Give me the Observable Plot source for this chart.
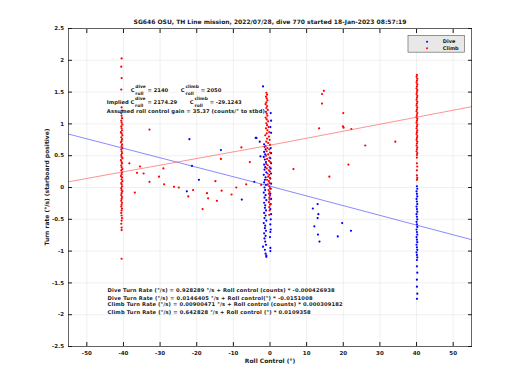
<!DOCTYPE html>
<html><head><meta charset="utf-8">
<script src="https://cdn.jsdelivr.net/npm/d3@7"></script>
<script src="https://cdn.jsdelivr.net/npm/@observablehq/plot@0.6"></script>
<style>body{margin:0;background:#fff} svg{display:block}</style>
</head><body><div id="chart"></div>
<script>
const title = "SG646 OSU, TH Line mission, 2022/07/28, dive 770 started 18-Jan-2023 08:57:19";
const xLabel = "Roll Control (°)";
const yLabel = "Turn rate (°/s) (starboard positive)";
const xTicks = [-50, -40, -30, -20, -10, 0, 10, 20, 30, 40, 50];
const yTicks = [-2.5, -2, -1.5, -1, -0.5, 0, 0.5, 1, 1.5, 2, 2.5];
const seriesNames = ["Dive", "Climb"];
const seriesColors = ["#0000ff", "#ff0000"];

// climb points, cluster at -40°
const climbAtM40 = [[-40.5,2.03],[-40.6,1.90],[-40.5,1.72],[-40.6,1.54],[-40.5,1.26],[-40.4,1.21],[-40.6,1.17],[-40.5,1.13],[-40.4,1.09],[-40.6,1.05],[-40.5,1.02],[-40.3,0.99],[-40.6,0.96],[-40.5,0.93],[-40.4,0.90],[-40.7,0.87],[-40.5,0.85],[-40.3,0.82],[-40.6,0.79],[-40.4,0.76],[-40.5,0.73],[-40.7,0.71],[-40.4,0.68],[-40.5,0.65],[-40.3,0.62],[-40.6,0.60],[-40.5,0.57],[-40.4,0.54],[-40.6,0.51],[-40.5,0.48],[-40.3,0.46],[-40.7,0.43],[-40.5,0.40],[-40.4,0.38],[-40.6,0.35],[-40.5,0.32],[-40.3,0.29],[-40.6,0.27],[-40.4,0.24],[-40.5,0.21],[-40.7,0.18],[-40.4,0.16],[-40.5,0.13],[-40.3,0.10],[-40.6,0.07],[-40.5,0.05],[-40.4,0.02],[-40.6,-0.01],[-40.5,-0.04],[-40.3,-0.06],[-40.5,-0.09],[-40.6,-0.12],[-40.4,-0.15],[-40.5,-0.18],[-40.6,-0.21],[-40.4,-0.24],[-40.5,-0.27],[-40.6,-0.30],[-40.4,-0.33],[-40.5,-0.36],[-40.6,-0.40],[-40.5,-0.44],[-40.4,-0.48],[-40.5,-0.52],[-40.6,-0.57],[-40.5,-0.63],[-40.5,-0.67],[-40.5,-1.12]];
// climb points, cluster near 0°
const climbAt0 = [[-1.0,1.49],[-0.8,1.46],[-1.1,1.43],[-0.9,1.40],[-0.7,1.37],[-1.0,1.34],[-1.2,1.31],[-0.8,1.28],[-1.0,1.25],[-0.6,1.22],[-1.1,1.19],[-0.9,1.16],[-0.7,1.13],[-1.2,1.10],[-0.9,1.07],[-0.5,1.04],[-1.0,1.01],[-0.8,0.98],[-0.4,0.95],[-1.1,0.93],[-0.7,0.90],[-0.2,0.87],[-0.9,0.85],[-1.3,0.82],[-0.3,0.80],[-0.8,0.77],[-0.1,0.75],[-1.0,0.72],[-0.5,0.70],[0.0,0.67],[-1.2,0.65],[-0.7,0.62],[-0.2,0.60],[-0.9,0.57],[0.0,0.55],[-0.5,0.52],[-1.1,0.50],[-0.1,0.47],[-0.8,0.45],[-0.3,0.42],[0.1,0.40],[-1.0,0.37],[-0.6,0.35],[-0.1,0.32],[-0.9,0.30],[-0.3,0.27],[0.0,0.25],[-0.7,0.22],[-0.2,0.20],[-0.5,0.17],[0.0,0.15],[-0.8,0.12],[-0.3,0.10],[-0.1,0.07],[-0.6,0.05],[-0.2,0.02],[0.0,-0.01],[-0.4,-0.04],[-0.1,-0.07],[-0.3,-0.10],[0.0,-0.13],[-0.2,-0.16],[-0.1,-0.19],[-0.3,-0.23],[0.0,-0.27],[-0.2,-0.31],[-0.1,-0.36],[-0.2,-0.43]];
// climb points, cluster at 40°
const climbAt40 = [[40.1,1.77],[40.0,1.74],[40.2,1.71],[40.1,1.68],[40.0,1.65],[40.2,1.62],[40.1,1.59],[40.0,1.56],[40.2,1.53],[40.1,1.50],[40.0,1.47],[40.2,1.44],[40.1,1.41],[40.0,1.38],[40.2,1.35],[40.1,1.32],[40.0,1.29],[40.2,1.26],[40.1,1.23],[40.0,1.20],[40.2,1.17],[40.1,1.14],[40.0,1.11],[40.2,1.08],[40.1,1.05],[40.0,1.02],[40.2,0.99],[40.1,0.96],[40.0,0.93],[40.2,0.90],[40.1,0.87],[40.0,0.84],[40.2,0.81],[40.1,0.78],[40.0,0.75],[40.2,0.72],[40.1,0.69],[40.0,0.66],[40.2,0.63],[40.1,0.60],[40.0,0.57],[40.2,0.54],[40.1,0.51],[40.1,0.47],[40.1,0.38],[40.2,0.33],[40.1,0.27],[40.1,0.19],[40.2,0.15],[40.1,0.12]];
// climb scattered points
const climbScatter = [[-38.4,0.38],[-35.5,0.33],[-36.3,0.23],[-34.5,0.22],[-32.9,0.09],[-36.9,-0.08],[-30.3,0.17],[-32.9,0.91],[-29.1,0.30],[-28.9,0.05],[-26.2,0.01],[-24.9,0.0],[-21.0,-0.04],[-22.3,-0.14],[-18.4,-0.34],[-17.2,-0.09],[-16.9,-0.17],[-14.5,-0.21],[-14.9,0.10],[-13.2,-0.05],[-13.4,0.45],[-10.5,-0.11],[-9.2,0.0],[-7.8,0.63],[-6.5,0.05],[-5.5,0.40],[-2.4,0.04],[14.7,1.52],[14.2,1.47],[14.2,1.32],[20.0,1.17],[19.9,0.96],[20.1,0.94],[22.2,0.92],[13.4,0.93],[26.0,0.66],[34.2,0.72],[6.4,0.29],[21.4,0.36],[16.2,0.17]];

// dive points, cluster near 0°
const diveAt0 = [[-1.9,1.59],[0.2,1.17],[0.3,1.05],[0.1,0.95],[0.3,0.86],[-3.7,0.78],[-2.8,0.72],[-1.6,0.68],[-2.6,0.49],[-1.5,0.64],[0.2,0.62],[-1.2,0.60],[-1.6,0.56],[0.3,0.54],[-1.3,0.52],[-1.7,0.48],[0.1,0.46],[-1.4,0.44],[-1.1,0.40],[0.3,0.38],[-1.6,0.36],[-1.3,0.32],[0.2,0.30],[-1.5,0.28],[-1.0,0.24],[0.3,0.22],[-1.7,0.20],[-1.2,0.16],[0.1,0.14],[-1.4,0.12],[-1.6,0.08],[0.3,0.06],[-1.1,0.04],[-1.5,0.00],[0.2,-0.02],[-1.3,-0.04],[-1.7,-0.08],[0.1,-0.10],[-1.2,-0.12],[-1.5,-0.16],[0.3,-0.18],[-1.0,-0.20],[-1.6,-0.24],[0.2,-0.26],[-1.3,-0.28],[-1.4,-0.32],[0.1,-0.34],[-1.1,-0.36],[-1.6,-0.40],[0.3,-0.42],[-1.2,-0.44],[-1.5,-0.48],[0.2,-0.50],[-1.0,-0.52],[-1.7,-0.56],[0.1,-0.58],[-1.3,-0.60],[-1.4,-0.64],[0.2,-0.66],[-1.1,-0.68],[-1.6,-0.72],[0.1,-0.70],[-1.2,-0.76],[-1.5,-0.80],[0.0,-0.78],[-1.3,-0.85],[-1.9,-0.93],[-1.1,-0.90],[0.1,-0.95],[-1.4,-0.98],[0.1,-1.00],[-1.2,-1.04],[-1.0,-1.07],[-1.0,-1.09]];
// dive points, cluster at 40°
const diveAt40 = [[40.1,0.02],[40.2,-0.02],[40.0,-0.06],[40.1,-0.10],[40.2,-0.14],[40.0,-0.18],[40.1,-0.22],[40.2,-0.26],[40.0,-0.30],[40.1,-0.34],[40.2,-0.38],[40.0,-0.42],[40.1,-0.46],[40.2,-0.50],[40.0,-0.54],[40.1,-0.58],[40.2,-0.62],[40.0,-0.66],[40.1,-0.70],[40.2,-0.74],[40.0,-0.78],[40.1,-0.82],[40.2,-0.86],[40.0,-0.90],[40.1,-0.94],[40.2,-0.98],[40.0,-1.02],[40.1,-1.06],[40.2,-1.10],[40.1,-1.14],[40.1,-1.24],[40.2,-1.34],[40.1,-1.45],[40.1,-1.56],[40.2,-1.67],[40.1,-1.75]];
// dive scattered points
const diveScatter = [[-22.0,0.76],[-13.4,0.59],[-21.3,0.34],[-19.4,0.12],[-22.7,-0.06],[-7.7,-0.19],[-3.9,0.78],[-4.3,0.09],[13.0,-0.26],[11.7,-0.33],[13.2,-0.42],[13.0,-0.48],[12.1,-0.61],[19.7,-0.56],[22.1,-0.68],[13.1,-0.74],[13.5,-0.85],[18.5,-0.77]];

// fitted lines (read at x = -55, 0, 55)
const fitX = [-55, 0, 55];
const diveFitY = [0.84, 0.02, -0.82];
const climbFitY = [0.09, 0.665, 1.27];

const annotLine1 = ["C", {sup: "dive", sub: "roll"}, " = 2140", "       ", "C", {sup: "climb", sub: "roll"}, " = 2050"];
const annotLine2 = ["Implied C", {sup: "dive", sub: "roll"}, " = 2174.29", "       ", "C", {sup: "climb", sub: "roll"}, " = -29.1243"];
const annotLine3 = ["Assumed roll control gain = 35.37 (counts/° to stbd)"];
const fitText = [
  "Dive Turn Rate (°/s) = 0.928289 °/s + Roll control (counts) * -0.000426938",
  "Dive Turn Rate (°/s) = 0.0146405 °/s + Roll control(°) * -0.0151008",
  "Climb Turn Rate (°/s) = 0.00900471 °/s + Roll control (counts) * 0.000309182",
  "Climb Turn Rate (°/s) = 0.642828 °/s + Roll control (°) * 0.0109358"
];
const fitTextWidth = [227, 205, 235, 203];

const dive = [...diveAt0, ...diveAt40, ...diveScatter];
const climb = [...climbAtM40, ...climbAt0, ...climbAt40, ...climbScatter];
const diveFit = fitX.map((x, i) => [x, diveFitY[i]]);
const climbFit = fitX.map((x, i) => [x, climbFitY[i]]);
const fmt = d => String(d);

const plot = Plot.plot({
  width: 520, height: 390,
  marginLeft: 68, marginRight: 49, marginTop: 28, marginBottom: 44,
  style: {fontFamily: "DejaVu Sans", fontWeight: "bold", fontSize: "5.5px", background: "#fff", color: "#1a1a1a"},
  x: {domain: [-55, 55]},
  y: {domain: [-2.5, 2.5]},
  marks: [
    Plot.gridX(xTicks, {stroke: "#e6e6e6", strokeOpacity: 1, strokeWidth: 0.6}),
    Plot.gridY(yTicks, {stroke: "#e6e6e6", strokeOpacity: 1, strokeWidth: 0.6}),
    Plot.dot(dive, {x: d => d[0], y: d => d[1], r: 1.1, fill: seriesColors[0], stroke: "none"}),
    Plot.dot(climb, {x: d => d[0], y: d => d[1], r: 1.1, fill: seriesColors[1], stroke: "none"}),
    Plot.line(diveFit, {x: d => d[0], y: d => d[1], stroke: "#3a3aff", strokeWidth: 0.6}),
    Plot.line(climbFit, {x: d => d[0], y: d => d[1], stroke: "#ff4a4a", strokeWidth: 0.6}),
    Plot.frame({stroke: "#262626", strokeWidth: 0.7}),
    Plot.axisX(xTicks, {anchor: "bottom", tickSize: -4, tickPadding: 8.5, tickFormat: fmt, label: null}),
    Plot.axisX(xTicks, {anchor: "top", tickSize: -4, tickFormat: () => "", label: null}),
    Plot.axisY(yTicks, {anchor: "left", tickSize: -4, tickPadding: 8.5, tickFormat: fmt, label: null}),
    Plot.axisY(yTicks, {anchor: "right", tickSize: -4, tickFormat: () => "", label: null}),
    Plot.text([title], {frameAnchor: "top", dy: -9, fontSize: 6, fontWeight: "bold"}),
    Plot.text([xLabel], {frameAnchor: "bottom", dy: 16, fontSize: 6, fontWeight: "bold"})
  ]
});
document.getElementById("chart").appendChild(plot);

// annotations & legend placed through the plot's own scales
const sx = plot.scale("x").apply, sy = plot.scale("y").apply;
const svg = d3.select(plot);
svg.append("text")
  .attr("transform", `translate(${sx(-55) - 21},${sy(0)}) rotate(-90)`)
  .attr("text-anchor", "middle").attr("dominant-baseline", "middle")
  .attr("font-family", "DejaVu Sans").attr("font-weight", "bold").attr("font-size", 6).attr("fill", "#1a1a1a")
  .text(yLabel);
const g = svg.append("g").attr("font-family", "DejaVu Sans").attr("font-weight", "bold").attr("fill", "#1a1a1a").attr("text-anchor", "start");
function rich(x0, y0, pieces, fs, len) {
  let x = x0;
  for (const p of pieces) {
    if (typeof p === "string") {
      const t = g.append("text").attr("x", x).attr("y", y0).attr("font-size", fs).attr("xml:space", "preserve").style("white-space", "pre").text(p);
      if (len) t.attr("textLength", len).attr("lengthAdjust", "spacing");
      x += t.node().getComputedTextLength();
    } else {
      const a = g.append("text").attr("x", x + 0.8).attr("y", y0 - fs * 0.62).attr("font-size", fs * 0.85).text(p.sup);
      const b = g.append("text").attr("x", x + 0.8).attr("y", y0 + fs * 0.7).attr("font-size", fs * 0.85).text(p.sub);
      x += Math.max(a.node().getComputedTextLength(), b.node().getComputedTextLength()) + 0.8;
    }
  }
}
rich(sx(-37.9), sy(1.50), annotLine1, 5.2);
rich(sx(-44.4), sy(1.31), annotLine2, 5.2);
rich(sx(-44.4), sy(1.165), annotLine3, 5.2, 158);
const fitY = [-1.645, -1.77, -1.875, -1.99];
fitText.forEach((t, i) => rich(sx(-44.2), sy(fitY[i]), [t], 5.2, fitTextWidth[i]));

// legend
const lg = svg.append("g").attr("text-anchor", "start");
lg.append("rect").attr("x", sx(37.8)).attr("y", sy(2.385)).attr("width", sx(53.2) - sx(37.8)).attr("height", sy(2.12) - sy(2.385))
  .attr("fill", "#e8e8e8").attr("stroke", "#555").attr("stroke-width", 0.6);
const legY = [2.285, 2.18];
seriesNames.forEach((n, i) => {
  lg.append("circle").attr("cx", sx(43.0)).attr("cy", sy(legY[i])).attr("r", 1).attr("fill", seriesColors[i]);
  lg.append("text").attr("x", sx(47.3)).attr("y", sy(legY[i]) + 1.8).attr("font-family", "DejaVu Sans").attr("font-weight", "bold").attr("font-size", 5).attr("fill", "#1a1a1a").text(n);
});
</script></body></html>
